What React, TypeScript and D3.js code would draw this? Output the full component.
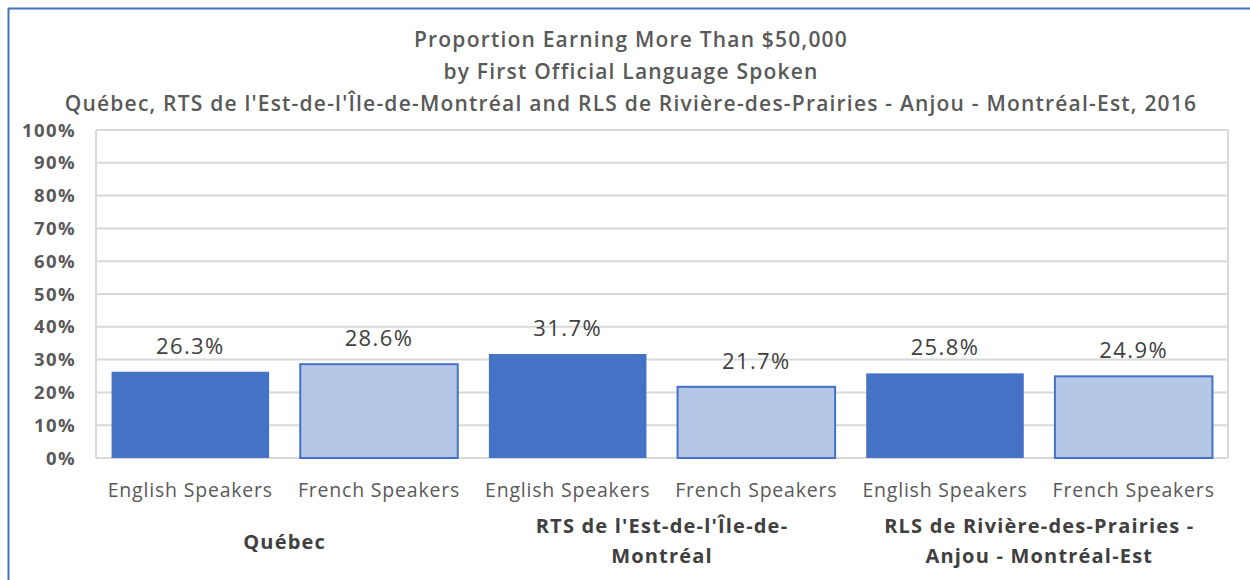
import React from "react";
import * as d3 from "d3";

const titleLines = [
  "Proportion Earning More Than $50,000",
  "by First Official Language Spoken",
  "Québec, RTS de l'Est-de-l'Île-de-Montréal and RLS de Rivière-des-Prairies - Anjou - Montréal-Est, 2016",
];
const groups = [
  ["Québec"],
  ["RTS de l'Est-de-l'Île-de-", "Montréal"],
  ["RLS de Rivière-des-Prairies -", "Anjou - Montréal-Est"],
];
const languages = ["English Speakers", "French Speakers"];
const values = [26.3, 28.6, 31.7, 21.7, 25.8, 24.9];
const yTicks = [0, 10, 20, 30, 40, 50, 60, 70, 80, 90, 100];

const W = 1250;
const H = 580;
const M = { left: 96, right: 1228, top: 130, bottom: 458 };
const FONT = "'Open Sans', sans-serif";

export default function App() {
  const cats = values.map((_, i) => `${i}`);
  const x = d3.scaleBand().domain(cats).range([M.left, M.right]).paddingInner(0.165).paddingOuter(0.0825);
  const y = d3.scaleLinear().domain([0, 100]).range([M.bottom, M.top]);
  const fmt = (v: number) => `${v.toFixed(1)}%`;
  const step = x.step();

  return (
    <svg width={W} height={H} style={{ position: "absolute", left: 0, top: 0 }} fontFamily={FONT}>
      <rect x={0} y={0} width={W} height={H} fill="#fff" />
      <line x1={8.5} y1={8} x2={8.5} y2={H} stroke="#4472C4" strokeWidth={2} />
      <line x1={8} y1={8.5} x2={W} y2={8.5} stroke="#4472C4" strokeWidth={2} />
      {titleLines.map((t, i) => (
        <text key={i} x={631} y={47 + i * 32} textAnchor="middle" fontSize={21} letterSpacing={1.2} fontWeight="600" fill="#595959">
          {t}
        </text>
      ))}
      {yTicks.map((t) => (
        <g key={t}>
          <line x1={M.left} x2={M.right} y1={y(t)} y2={y(t)} stroke="#d9d9d9" strokeWidth={2} />
          <text x={76} y={y(t) + 6.5} textAnchor="end" fontSize={18.5} letterSpacing={1.4} fontWeight="bold" fill="#595959">
            {t}%
          </text>
        </g>
      ))}
      <line x1={M.left} x2={M.left} y1={M.top} y2={M.bottom} stroke="#d9d9d9" strokeWidth={2} />
      <line x1={M.right} x2={M.right} y1={M.top} y2={M.bottom} stroke="#d9d9d9" strokeWidth={2} />
      {values.map((v, i) => {
        const dark = i % 2 === 0;
        const bx = x(cats[i])!;
        const bw = x.bandwidth();
        return (
          <g key={i}>
            <rect
              x={bx}
              y={y(v)}
              width={bw}
              height={y(0) - y(v)}
              fill={dark ? "#4472C4" : "#B4C7E7"}
              stroke={dark ? "none" : "#4472C4"}
              strokeWidth={2}
            />
            <text x={bx + bw / 2} y={y(v) - 18} textAnchor="middle" fontSize={22} letterSpacing={1.4} fill="#404040">
              {fmt(v)}
            </text>
            <text x={bx + bw / 2} y={497} textAnchor="middle" fontSize={19.5} letterSpacing={0.8} fill="#595959">
              {languages[i % 2]}
            </text>
          </g>
        );
      })}
      {groups.map((g, gi) => {
        const cx = M.left + step * 2 * gi + step;
        return g.map((line, li) => (
          <text
            key={`${gi}-${li}`}
            x={cx}
            y={g.length === 1 ? 549 : 533 + li * 30}
            textAnchor="middle"
            fontSize={20}
            letterSpacing={1.2}
            fontWeight="bold"
            fill="#404040"
          >
            {line}
          </text>
        ));
      })}
    </svg>
  );
}
